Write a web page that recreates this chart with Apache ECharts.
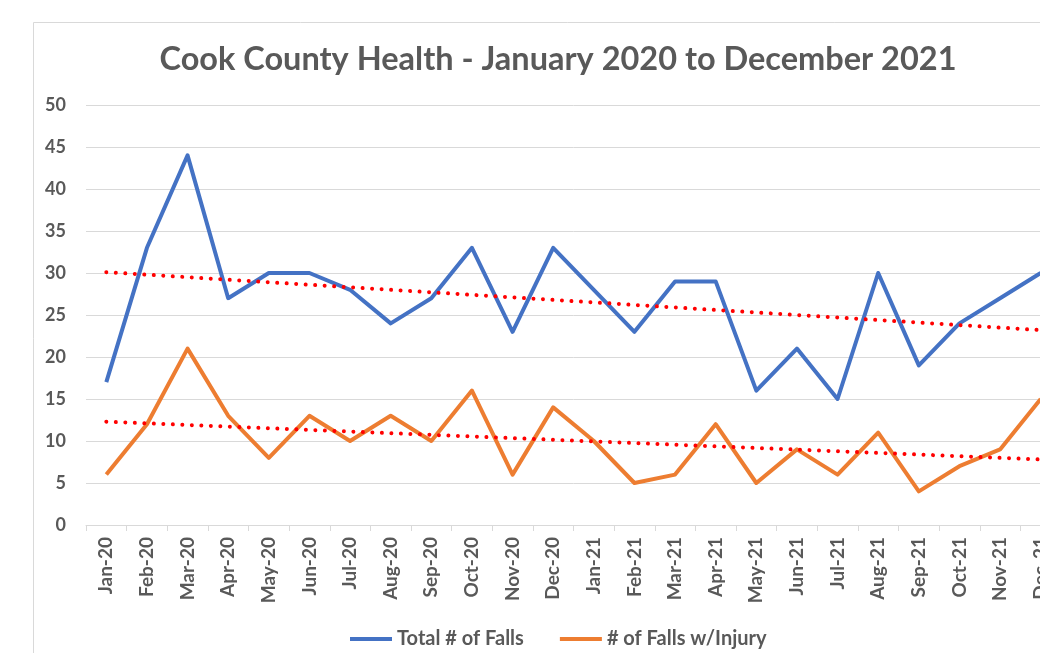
<!DOCTYPE html>
<html>
<head>
<meta charset="utf-8">
<script src="https://cdn.jsdelivr.net/npm/echarts@6/dist/echarts.min.js"></script>
<style>
html,body{margin:0;padding:0;width:1040px;height:653px;overflow:hidden;background:#fff;}
#c{position:absolute;left:0;top:0;width:1100px;height:653px;}
</style>
</head>
<body>
<div id="c"></div>
<script>
const titleText = 'Cook County Health - January 2020 to December 2021';
const categories = ['Jan-20','Feb-20','Mar-20','Apr-20','May-20','Jun-20','Jul-20','Aug-20','Sep-20','Oct-20','Nov-20','Dec-20',
  'Jan-21','Feb-21','Mar-21','Apr-21','May-21','Jun-21','Jul-21','Aug-21','Sep-21','Oct-21','Nov-21','Dec-21'];
const totalFalls = [17,33,44,27,30,30,28,24,27,33,23,33,28,23,29,29,16,21,15,30,19,24,27,30];
const injuryFalls = [6,12,21,13,8,13,10,13,10,16,6,14,10,5,6,12,5,9,6,11,4,7,9,15];
// trendline endpoints
const totalTrend = [30.1, 23.2];
const injuryTrend = [12.3, 7.8];
const seriesNames = ['Total # of Falls', '# of Falls w/Injury'];

const FONT = 'Lato';
const GRAY = '#595959';
const chart = echarts.init(document.getElementById('c'), null, {renderer:'canvas'});
const trendStyle = {color:'#FF0000', width:4, type:[0.01, 9.5], cap:'round'};
chart.setOption({
  animation:false,
  backgroundColor:'#fff',
  graphic:[
    {type:'rect', shape:{x:33.5, y:22.5, width:1200, height:800}, style:{fill:'none', stroke:'#D9D9D9', lineWidth:1}, silent:true, z:-1},
    {type:'text', x:558, y:60, style:{text:titleText, fill:GRAY, font:'bold 32.5px ' + FONT, textAlign:'center', textVerticalAlign:'middle'}}
  ],
  legend:{
    data:seriesNames,
    left:345, top:624,
    itemWidth:42, itemHeight:4, itemGap:36, icon:'rect',
    textStyle:{color:GRAY, fontFamily:FONT, fontWeight:'bold', fontSize:20}
  },
  grid:{left:86, top:105, width:975, height:420, containLabel:false},
  xAxis:{
    type:'category', data:categories, boundaryGap:true,
    axisLine:{lineStyle:{color:'#D9D9D9', width:1}},
    axisTick:{show:true, length:6, lineStyle:{color:'#D9D9D9'}},
    axisLabel:{rotate:90, margin:12, color:GRAY, fontFamily:FONT, fontWeight:'bold', fontSize:19, interval:0}
  },
  yAxis:{
    type:'value', min:0, max:50, interval:5,
    axisLine:{show:false}, axisTick:{show:false},
    splitLine:{lineStyle:{color:'#D9D9D9', width:1}},
    axisLabel:{margin:20, color:GRAY, fontFamily:FONT, fontWeight:'bold', fontSize:18}
  },
  series:[
    {name:seriesNames[0], type:'line', data:totalFalls, symbol:'none', lineStyle:{color:'#4472C4', width:4, join:'round'}, itemStyle:{color:'#4472C4'}, z:3},
    {name:seriesNames[1], type:'line', data:injuryFalls, symbol:'none', lineStyle:{color:'#ED7D31', width:4, join:'round'}, itemStyle:{color:'#ED7D31'}, z:3},
    {name:'trendTotal', type:'line', data:[[categories[0], totalTrend[0]],[categories[categories.length-1], totalTrend[1]]], symbol:'none', lineStyle:trendStyle, z:4},
    {name:'trendInjury', type:'line', data:[[categories[0], injuryTrend[0]],[categories[categories.length-1], injuryTrend[1]]], symbol:'none', lineStyle:trendStyle, z:4}
  ]
});
</script>
</body>
</html>
